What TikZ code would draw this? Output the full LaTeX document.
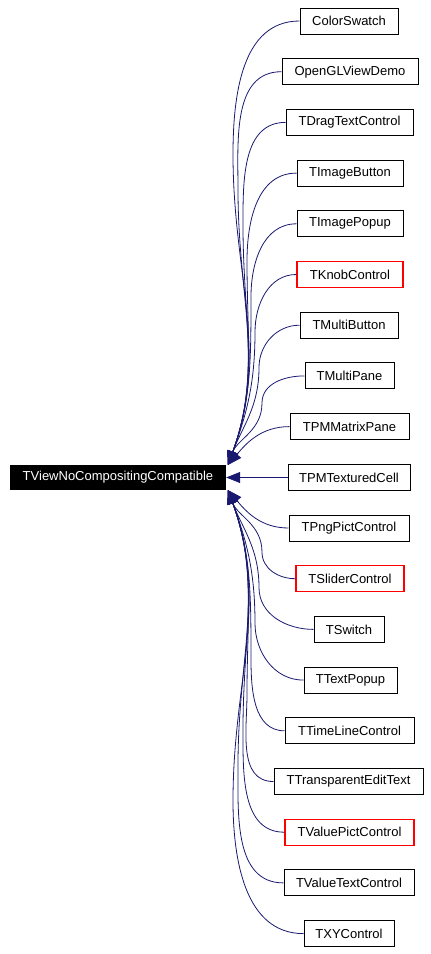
\documentclass[tikz,border=0pt]{standalone}
\usepackage{fontspec}
\setmainfont{Liberation Sans}
\usetikzlibrary{arrows.meta}
\definecolor{edgeblue}{HTML}{191970}
\newcommand{\lblfont}{\fontsize{13}{15}\selectfont}
\tikzset{
  box/.style={draw=black, line width=1pt, minimum height=26pt, inner sep=0pt, font=\lblfont, text=black, fill=white},
  redbox/.style={box, draw=red, line width=1.3pt},
  mainbox/.style={fill=black, text=white, minimum height=25pt, minimum width=216pt, inner sep=0pt, font=\lblfont},
  edge/.style={draw=edgeblue, line width=0.8pt, -{Triangle[length=14pt,width=11pt]}}
}
\begin{document}
\begin{tikzpicture}[x=1pt,y=1pt]
\useasboundingbox (0,0) rectangle (431,-954);
\node[mainbox] (main) at (118,-477.5) {TViewNoCompositingCompatible};
\coordinate (tipU) at (228,-465);
\coordinate (tipL) at (228,-490);

\node[box, minimum width=98pt]  (c1)  at (349,-21)    {ColorSwatch};
\node[box, minimum width=136pt] (c2)  at (350,-71.7)  {OpenGLViewDemo};
\node[box, minimum width=127pt] (c3)  at (349.5,-122.4) {TDragTextControl};
\node[box, minimum width=106pt] (c4)  at (350,-173.1) {TImageButton};
\node[box, minimum width=106pt] (c5)  at (350,-223.8) {TImagePopup};
\node[redbox, minimum width=106pt] (c6) at (350,-274.5) {TKnobControl};
\node[box, minimum width=98pt]  (c7)  at (349,-325.2) {TMultiButton};
\node[box, minimum width=89pt]  (c8)  at (349.5,-375.9) {TMultiPane};
\node[box, minimum width=119pt] (c9)  at (349.5,-426.6) {TPMMatrixPane};
\node[box, minimum width=122pt] (c10) at (349,-477.5) {TPMTexturedCell};
\node[box, minimum width=120pt] (c11) at (349,-528)   {TPngPictControl};
\node[redbox, minimum width=108pt] (c12) at (350,-578.7) {TSliderControl};
\node[box, minimum width=70pt]  (c13) at (349,-629.4) {TSwitch};
\node[box, minimum width=93pt]  (c14) at (350.5,-680.1) {TTextPopup};
\node[box, minimum width=129pt] (c15) at (349.5,-730.8) {TTimeLineControl};
\node[box, minimum width=149pt] (c16) at (348.5,-781.5) {TTransparentEditText};
\node[redbox, minimum width=129pt] (c17) at (349.5,-832.2) {TValuePictControl};
\node[box, minimum width=130pt] (c18) at (349,-882.9) {TValueTextControl};
\node[box, minimum width=90pt]  (c19) at (349,-933.6) {TXYControl};

% intermediate bend points
\coordinate (m1) at (233,-154.5);
\coordinate (m2) at (238,-190);
\coordinate (m3) at (243,-225.5);
\coordinate (m4) at (247,-261);
\coordinate (m5) at (251,-296.6);
\coordinate (m6) at (255,-332);
\coordinate (m7) at (259,-367.6);
\coordinate (m8) at (262,-403);
\coordinate (m12) at (262,-552.1);
\coordinate (m13) at (259,-587.6);
\coordinate (m14) at (255,-623.1);
\coordinate (m15) at (251,-658.6);
\coordinate (m16) at (247,-694);
\coordinate (m17) at (243,-729.5);
\coordinate (m18) at (238,-765);
\coordinate (m19) at (233,-800.6);

\foreach \i in {1,...,8}{
  \draw[edge] (c\i.west) to[out=180,in=90] (m\i) to[out=-90,in=70] (tipU);
}
\draw[edge] (c9.west) to[out=180,in=50] (tipU);
\draw[edge] (c10.west) -- (main.east);
\draw[edge] (c11.west) to[out=180,in=-50] (tipL);
\foreach \i in {12,...,19}{
  \draw[edge] (c\i.west) to[out=180,in=-90] (m\i) to[out=90,in=-70] (tipL);
}
\end{tikzpicture}
\end{document}
